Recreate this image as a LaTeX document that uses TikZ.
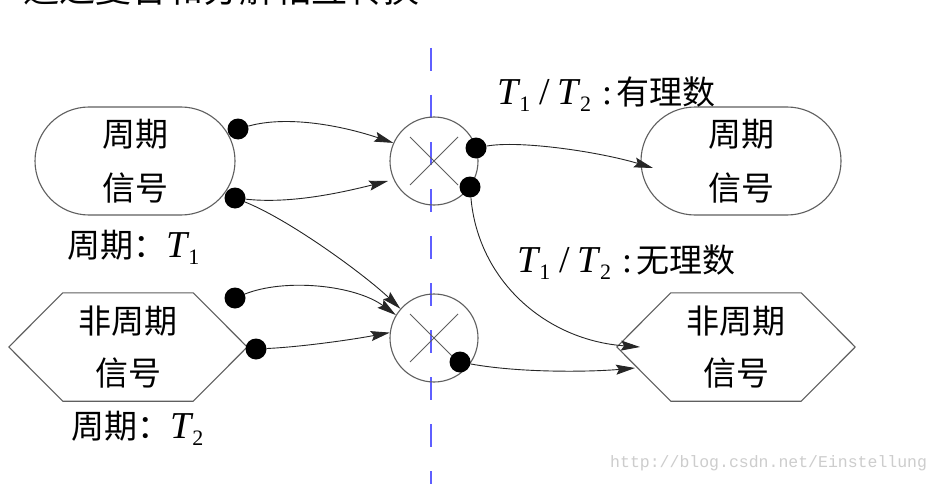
\documentclass[tikz,border=0pt]{standalone}
\usepackage{fontspec}
\setmainfont{Liberation Serif}
\newfontfamily\cjk{Noto Sans CJK SC}
\newfontfamily\wmfont{Liberation Mono}
\usetikzlibrary{arrows.meta,calc}
\definecolor{shapegray}{RGB}{95,95,95}
\definecolor{axisblue}{RGB}{95,95,255}
\definecolor{wmgray}{RGB}{205,205,205}
\newcommand{\perT}[1]{{\rmfamily\fontsize{38}{38}\selectfont\itshape T}\kern1pt\raisebox{-7pt}{\rmfamily\fontsize{22}{22}\selectfont #1}}
\newcommand{\ratiolbl}[1]{\perT{1}\kern9pt{\rmfamily\fontsize{38}{38}\selectfont /}\kern8pt\perT{2}\kern11pt{\rmfamily\fontsize{36}{36}\selectfont:}\kern4pt#1}
\begin{document}
\begin{tikzpicture}[x=1pt,y=-1pt,
  shapeline/.style={draw=shapegray,line width=1.1pt},
  stadium/.style={shapeline,rounded corners=54pt,minimum width=200pt,minimum height=108pt,
    align=center,font=\cjk\fontsize{33}{54}\selectfont,inner sep=0pt},
  hexcore/.style={minimum width=130pt,minimum height=108pt,inner sep=0pt,align=center,
    font=\cjk\fontsize{33}{52}\selectfont},
  mixer/.style={circle,shapeline,minimum size=88pt,inner sep=0pt},
  crossline/.style={draw=shapegray,line width=0.9pt},
  port/.style={circle,fill=black,inner sep=0pt,minimum size=21pt},
  flow/.style={draw=black!85,line width=0.9pt,-{Stealth[length=19pt,width=10pt,inset=3pt]}},
  lbl/.style={anchor=base west,inner sep=0pt,font=\cjk\fontsize{33}{33}\selectfont},
]
\fill[white] (0,0) rectangle (941,484);
\useasboundingbox (0,0) rectangle (941,484);

% cut-off title
\node[anchor=base west,inner sep=0pt,font=\cjk\fontsize{36}{36}\selectfont] (title) at (23,3) {通过复合和分解相互转换};

% axis
\coordinate (axtop) at (431,48);
\coordinate (axbot) at (431,484);
\draw[axisblue,line width=1.2pt,dash pattern=on 23pt off 24pt] (axtop) -- (axbot);

% left shapes
\node[stadium] (ls) at (135,161) {周期\\信号};
\node[hexcore] (lh) at (128,347) {非周期\\信号};
\draw[shapeline] (lh.north west) -- (lh.north east) -- ($(lh.east)+(54,0)$) -- (lh.south east)
  -- (lh.south west) -- ($(lh.west)+(-54,0)$) -- cycle;

% right shapes
\node[stadium] (rs) at (741,161) {周期\\信号};
\node[hexcore] (rh) at (736,347) {非周期\\信号};
\draw[shapeline] (rh.north west) -- (rh.north east) -- ($(rh.east)+(54,0)$) -- (rh.south east)
  -- (rh.south west) -- ($(rh.west)+(-54,0)$) -- cycle;

% mixers
\node[mixer] (m1) at (434,161) {};
\node[mixer] (m2) at (434,338) {};
\draw[crossline] ($(m1.center)+(-24,-24)$) -- ($(m1.center)+(24,24)$);
\draw[crossline] ($(m1.center)+(-24,24)$) -- ($(m1.center)+(24,-24)$);
\draw[crossline] ($(m2.center)+(-24,-24)$) -- ($(m2.center)+(24,24)$);
\draw[crossline] ($(m2.center)+(-24,24)$) -- ($(m2.center)+(24,-24)$);

% ports
\node[port] (d1) at (238,129) {};
\node[port] (d2) at (235,198) {};
\node[port] (d3) at (235,298) {};
\node[port] (d4) at (256,349) {};
\node[port] (d5) at (476,148) {};
\node[port] (d6) at (470,187) {};
\node[port] (d7) at (460,362) {};

% targets
\coordinate (t1) at (m1.156);
\coordinate (t2) at (388,181);
\coordinate (t3) at (m2.139);
\coordinate (t4) at (m2.149);
\coordinate (t5) at (m2.173);
\coordinate (t6) at (653,168);
\coordinate (t7) at (640,347);
\coordinate (t8) at (635,368);

% connectors
\draw[flow] (d1) .. controls (288,115) and (343,126) .. (t1);
\draw[flow] (d2) .. controls (290,204) and (340,193) .. (t2);
\draw[flow] (d2) .. controls (290,220) and (365,275) .. (t3);
\draw[flow] (d3) .. controls (285,278) and (355,285) .. (t4);
\draw[flow] (d4) .. controls (300,347) and (350,340) .. (t5);
\draw[flow] (d5) .. controls (520,140) and (600,152) .. (t6);
\draw[flow] (d6) .. controls (478,280) and (545,340) .. (t7);
\draw[flow] (d7) .. controls (520,373) and (590,372) .. (t8);

% labels
\node[lbl] (p1) at (67,257) {周期：\perT{1}};
\node[lbl] (p2) at (71,438) {周期：\perT{2}};
\node[lbl] (q1) at (497,104) {\ratiolbl{有理数}};
\node[lbl] (q2) at (517,272) {\ratiolbl{无理数}};

% watermark
\node[anchor=west,inner sep=0pt,text=wmgray,font=\wmfont\fontsize{16.5}{16.5}\selectfont] (wm) at (610,463) {http://blog.csdn.net/Einstellung};
\end{tikzpicture}
\end{document}
